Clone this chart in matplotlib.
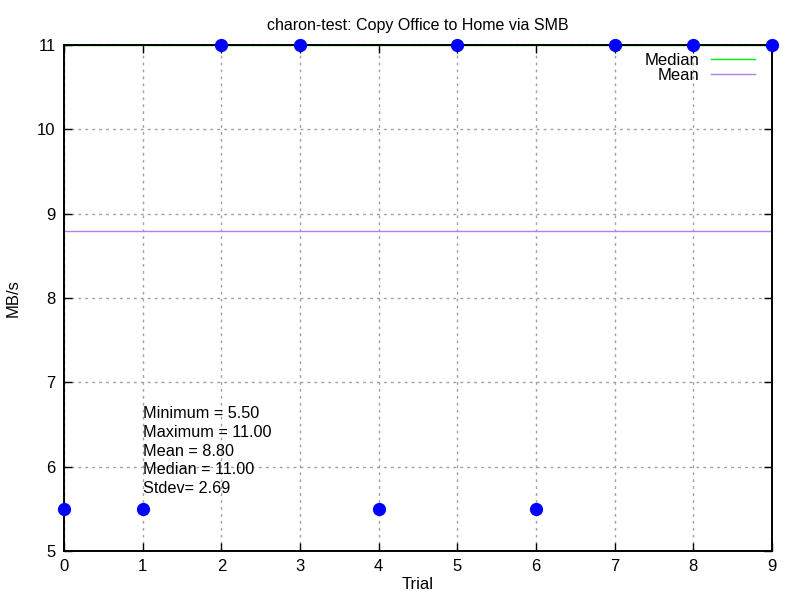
import matplotlib
matplotlib.use("Agg")
import matplotlib.pyplot as plt
import numpy as np

trials = [0, 1, 2, 3, 4, 5, 6, 7, 8, 9]
mbps = [5.5, 5.5, 11, 11, 5.5, 11, 5.5, 11, 11, 11]
median_val = 11.0
mean_val = 8.8
stats_lines = ["Minimum = 5.50", "Maximum = 11.00", "Mean = 8.80", "Median = 11.00", "Stdev= 2.69"]

plt.rcParams['font.family'] = ['Liberation Sans', 'DejaVu Sans']
fig = plt.figure(figsize=(8, 6), dpi=100)
ax = fig.add_axes([0.08, 0.0817, 0.885, 0.8433])

ax.plot(trials, [median_val]*len(trials), color='#00ee00', lw=1, label='Median', zorder=1)
ax.plot(trials, [mean_val]*len(trials), color='#b080f0', lw=1, label='Mean', zorder=2)
ax.plot(trials, mbps, 'o', color='#0000ff', ms=8.5, clip_on=False, zorder=5)

ax.set_xlim(0, 9)
ax.set_ylim(5, 11)
ax.set_xticks(range(0, 10))
ax.set_yticks(range(5, 12))
ax.tick_params(direction='in', top=True, right=True, labelsize=12, length=6, width=1, pad=6)
ax.grid(True, color='#a0a0a0', linestyle=(0, (2, 3)), lw=1)
for s in ax.spines.values():
    s.set_linewidth(1.4)
    s.set_zorder(4)
ax.set_xlabel('Trial', fontsize=12, labelpad=2)
ax.set_ylabel('MB/s', fontsize=12, labelpad=12)
ax.set_title('charon-test: Copy Office to Home via SMB', fontsize=11.5, pad=11)

for i, line in enumerate(stats_lines):
    ax.text(1, 6.625 - i*0.2206, line, fontsize=11.7, va='center', ha='left')

leg = ax.legend(loc='upper right', markerfirst=False, frameon=False, fontsize=12,
                handlelength=2.6, borderaxespad=0.0, labelspacing=0.0, handletextpad=0.7,
                bbox_to_anchor=(0.985, 0.998))
for t in leg.get_texts():
    t.set_ha('right')

fig.savefig('out.png', dpi=100)
